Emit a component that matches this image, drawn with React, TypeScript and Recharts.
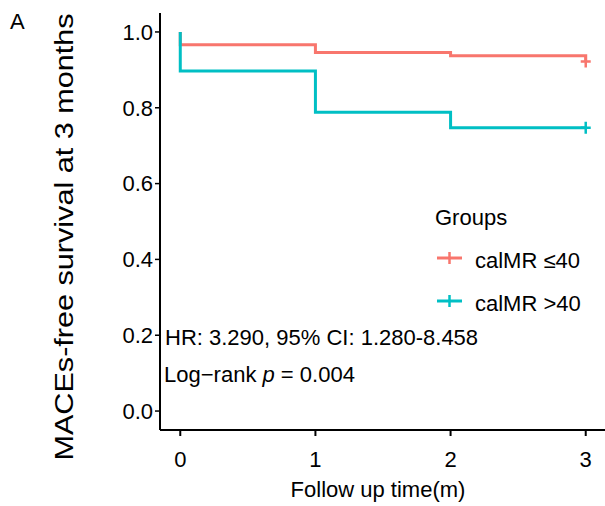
import React from 'react';
import { LineChart, Line, XAxis, YAxis, Customized } from 'recharts';

// Kaplan-Meier steps (time in months, survival fraction)
const lowTimes = [0, 0, 1, 2, 3];
const lowSurv = [1.0, 0.966, 0.946, 0.937, 0.922];
const lowCensored = [false, false, false, false, true];

const highTimes = [0, 0, 1, 2, 3];
const highSurv = [1.0, 0.897, 0.788, 0.747, 0.747];
const highCensored = [false, false, false, false, true];

const xTicks = [0, 1, 2, 3];
const yTicks = [0, 0.2, 0.4, 0.6, 0.8, 1.0];

const groupNames = ['calMR \u226440', 'calMR >40'];
const groupColors = ['#F8766D', '#00BFC4'];

const toRows = (times: number[], surv: number[], cens: boolean[]) =>
  times.map((t, i) => ({ t, s: surv[i], cens: cens[i] }));

const lowData = toRows(lowTimes, lowSurv, lowCensored);
const highData = toRows(highTimes, highSurv, highCensored);

const FONT = '"Liberation Sans", Arial, sans-serif';

const censorDot = (color: string) => (props: any) => {
  const { cx, cy, payload, index } = props;
  if (!payload || !payload.cens) return <g key={`d-${index}`} />;
  return (
    <path
      key={`d-${index}`}
      d={`M${cx - 5},${cy} H${cx + 5} M${cx},${cy - 6} V${cy + 6}`}
      stroke={color}
      strokeWidth={2.5}
      fill="none"
    />
  );
};

// legend box (ggplot style, top-right inside the panel)
const GroupLegend = () => (
  <g fontFamily={FONT} fill="#000">
    <text x={435} y={225} fontSize={22}>Groups</text>
    {groupNames.map((name, i) => {
      const y = 258 + i * 43;
      return (
        <g key={name}>
          <line x1={437} x2={462} y1={y} y2={y} stroke={groupColors[i]} strokeWidth={3} />
          <line x1={449.5} x2={449.5} y1={y - 6} y2={y + 6} stroke={groupColors[i]} strokeWidth={2.5} />
          <text x={475} y={y + 10} fontSize={22}>{name}</text>
        </g>
      );
    })}
  </g>
);

const Annotations = () => (
  <g fontFamily={FONT} fill="#000">
    <text x={10} y={29} fontSize={22}>A</text>
    <text
      transform="translate(73,237) rotate(-90)"
      textAnchor="middle"
      fontSize={25}
      textLength={447}
      lengthAdjust="spacingAndGlyphs"
    >
      MACEs-free survival at 3 months
    </text>
    <text x={165} y={345} fontSize={22}>HR: 3.290, 95% CI: 1.280-8.458</text>
    <text x={164} y={382} fontSize={22}>
      Log{'\u2212'}rank <tspan fontStyle="italic">p</tspan> = 0.004
    </text>
    <text x={378} y={497} fontSize={22} textAnchor="middle">Follow up time(m)</text>
  </g>
);

const App: React.FC = () => {
  return (
    <div style={{ position: 'absolute', left: 0, top: 0, background: '#fff' }}>
      <LineChart width={605} height={506} margin={{ top: 13, right: -1, bottom: 0, left: 0 }}>
        <XAxis
          type="number"
          dataKey="t"
          domain={[-0.15, 3.15]}
          ticks={xTicks}
          height={76}
          tickSize={6}
          tickMargin={15}
          allowDuplicatedCategory={false}
          axisLine={{ stroke: '#000', strokeWidth: 2 }}
          tickLine={{ stroke: '#000', strokeWidth: 2 }}
          tick={{ fill: '#000', fontSize: 22, fontFamily: FONT }}
        />
        <YAxis
          type="number"
          domain={[-0.05, 1.05]}
          ticks={yTicks}
          width={160}
          tickSize={5}
          tickMargin={2}
          tickFormatter={(v: number) => v.toFixed(1)}
          axisLine={{ stroke: '#000', strokeWidth: 2 }}
          tickLine={{ stroke: '#000', strokeWidth: 1.5 }}
          tick={{ fill: '#000', fontSize: 22, fontFamily: FONT }}
        />
        <Line
          data={lowData}
          dataKey="s"
          name={groupNames[0]}
          type="stepAfter"
          stroke={groupColors[0]}
          strokeWidth={3}
          dot={censorDot(groupColors[0])}
          activeDot={false}
          isAnimationActive={false}
        />
        <Line
          data={highData}
          dataKey="s"
          name={groupNames[1]}
          type="stepAfter"
          stroke={groupColors[1]}
          strokeWidth={3}
          dot={censorDot(groupColors[1])}
          activeDot={false}
          isAnimationActive={false}
        />
        <Customized component={GroupLegend} />
        <Customized component={Annotations} />
      </LineChart>
    </div>
  );
};

export default App;
